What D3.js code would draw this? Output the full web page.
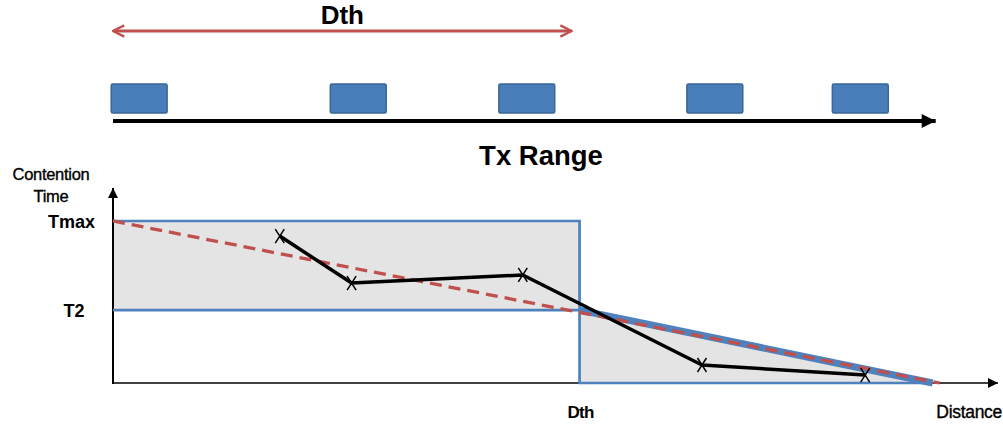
<!DOCTYPE html>
<html><head><meta charset="utf-8">
<script src="https://cdn.jsdelivr.net/npm/d3@7"></script>
<style>
html,body{margin:0;padding:0;background:#fff;}
text{font-family:"Liberation Sans",Arial,sans-serif;}
</style></head>
<body>
<svg id="c" width="1003" height="427"></svg>
<script>
// ---- data (distance units 0..100, contention-time units with Tmax = 100) ----
const nodeStarts = [-0.2, 24.5, 43.5, 64.7, 81.1];   // node boxes along Tx range
const nodeWidth = 6.3;
const dthArrow = [0, 51.7];
const txRangeEnd = 93.2;
const Dth = 52.6;
const rangeEnd = 92.4;
const Tmax = 100, T2 = 45;
const sampleDist = [18.8, 26.9, 46.2, 66.4, 84.8];
const sampleTime = [90.7, 61.7, 66.7, 11.1, 4.9];
const yTicks = [{v: 100, label: "Tmax"}, {v: 45, label: "T2"}];
const xTicks = [{v: 52.6, label: "Dth"}];

const svg = d3.select("#c");
const x = d3.scaleLinear().domain([0, 100]).range([113, 1000]);
const y = d3.scaleLinear().domain([0, 121.6]).range([383, 186]);

const blue = "#4f81bd", red = "#c0504d";
const defs = svg.append("defs");
function marker(id, fill, w, h, open, color) {
  const m = defs.append("marker").attr("id", id).attr("viewBox", "0 0 10 10")
    .attr("refX", open ? 9 : 10).attr("refY", 5).attr("markerWidth", w).attr("markerHeight", h)
    .attr("markerUnits", "userSpaceOnUse").attr("orient", "auto-start-reverse");
  if (open) m.append("path").attr("d", "M1,1 L9,5 L1,9").attr("fill", "none").attr("stroke", color).attr("stroke-width", 1.7);
  else m.append("path").attr("d", "M0,0 L10,5 L0,10 Z").attr("fill", fill);
}
marker("redOpen", null, 14, 14, true, red);
marker("blkBig", "#000", 16, 14, false);
marker("blkSmall", "#000", 10, 10, false);

// ---- top strip ----
svg.append("line").attr("x1", x(dthArrow[0])).attr("x2", x(dthArrow[1])).attr("y1", 31).attr("y2", 31)
  .attr("stroke", red).attr("stroke-width", 2.8)
  .attr("marker-start", "url(#redOpen)").attr("marker-end", "url(#redOpen)");
svg.append("text").attr("x", (x(dthArrow[0]) + x(dthArrow[1])) / 2).attr("y", 24)
  .attr("text-anchor", "middle").attr("font-size", 26).attr("font-weight", "bold").text("Dth");

svg.selectAll("rect.node").data(nodeStarts).join("rect").attr("class", "node")
  .attr("x", d => x(d)).attr("y", 84).attr("width", d => x(d + nodeWidth) - x(d)).attr("height", 29)
  .attr("rx", 1.5).attr("fill", "#4a7ebb").attr("stroke", "#3a6596").attr("stroke-width", 1.5);

svg.append("line").attr("x1", x(0)).attr("x2", x(txRangeEnd) - 4).attr("y1", 121).attr("y2", 121)
  .attr("stroke", "#000").attr("stroke-width", 4).attr("marker-end", "url(#blkBig)");
svg.append("text").attr("x", 541).attr("y", 165).attr("text-anchor", "middle")
  .attr("font-size", 27.5).attr("font-weight", "bold").text("Tx Range");

// ---- bottom chart: shaded regions ----
svg.append("rect").attr("x", x(0)).attr("y", y(Tmax)).attr("width", x(Dth) - x(0)).attr("height", y(T2) - y(Tmax))
  .attr("fill", "#e4e4e4");
const tri = [[Dth, 0], [Dth, T2], [rangeEnd, 0]];
svg.append("path").attr("d", d3.line().x(d => x(d[0])).y(d => y(d[1]))(tri) + "Z").attr("fill", "#e4e4e4");

// axes
svg.append("line").attr("x1", x(0)).attr("x2", x(100) - 2).attr("y1", y(0)).attr("y2", y(0))
  .attr("stroke", "#000").attr("stroke-width", 1.5).attr("marker-end", "url(#blkSmall)");
svg.append("line").attr("x1", x(0)).attr("x2", x(0)).attr("y1", y(0) + 1).attr("y2", y(121.6) + 2)
  .attr("stroke", "#000").attr("stroke-width", 2).attr("marker-end", "url(#blkSmall)");

// blue outline
const bl = d3.line().x(d => x(d[0])).y(d => y(d[1]));
svg.append("path").attr("d", bl([[0, Tmax], [Dth, Tmax], [Dth, 0], [rangeEnd, 0]]))
  .attr("fill", "none").attr("stroke", blue).attr("stroke-width", 2.7);
svg.append("path").attr("d", bl([[0, T2], [Dth, T2]]))
  .attr("fill", "none").attr("stroke", blue).attr("stroke-width", 2.7);
svg.append("path").attr("d", bl([[Dth, T2], [rangeEnd, 0]]))
  .attr("fill", "none").attr("stroke", blue).attr("stroke-width", 7);

// red dashed trend
svg.append("path").attr("d", bl([[0, Tmax], [txRangeEnd, 0]]))
  .attr("fill", "none").attr("stroke", red).attr("stroke-width", 3.3).attr("stroke-dasharray", "12,7");

// samples
const pts = sampleDist.map((d, i) => [d, sampleTime[i]]);
svg.append("path").attr("d", bl(pts)).attr("fill", "none").attr("stroke", "#000").attr("stroke-width", 3.5)
  .attr("stroke-linejoin", "round");
const sx = 4.5, sy = 7;
svg.selectAll("path.mk").data(pts).join("path").attr("class", "mk")
  .attr("d", d => { const cx = x(d[0]), cy = y(d[1]);
    return `M${cx - sx},${cy - sy}L${cx + sx},${cy + sy}M${cx + sx},${cy - sy}L${cx - sx},${cy + sy}`; })
  .attr("stroke", "#000").attr("stroke-width", 1.5).attr("fill", "none");

// labels
const heavy = sel => sel.attr("stroke", "#000").attr("stroke-width", 0.35);
heavy(svg.append("text").attr("x", 51).attr("y", 180).attr("text-anchor", "middle").attr("font-size", 16.5)
  .attr("letter-spacing", -0.3).text("Contention"));
heavy(svg.append("text").attr("x", 51).attr("y", 202).attr("text-anchor", "middle").attr("font-size", 16.5)
  .attr("letter-spacing", -0.3).text("Time"));
svg.selectAll("text.yt").data(yTicks).join("text").attr("class", "yt")
  .attr("x", d => d.label === "T2" ? 74 : 95).attr("y", d => y(d.v) + 7)
  .attr("text-anchor", d => d.label === "T2" ? "middle" : "end")
  .attr("font-size", 18).attr("font-weight", "bold").text(d => d.label);
svg.selectAll("text.xt").data(xTicks).join("text").attr("class", "xt")
  .attr("x", d => x(d.v) + 1).attr("y", 418).attr("text-anchor", "middle")
  .attr("font-size", 17).attr("font-weight", "bold").attr("letter-spacing", -0.8).text(d => d.label);
heavy(svg.append("text").attr("x", 1002).attr("y", 418).attr("text-anchor", "end").attr("font-size", 17.5)
  .attr("letter-spacing", -0.3).text("Distance"));
</script>
</body></html>
